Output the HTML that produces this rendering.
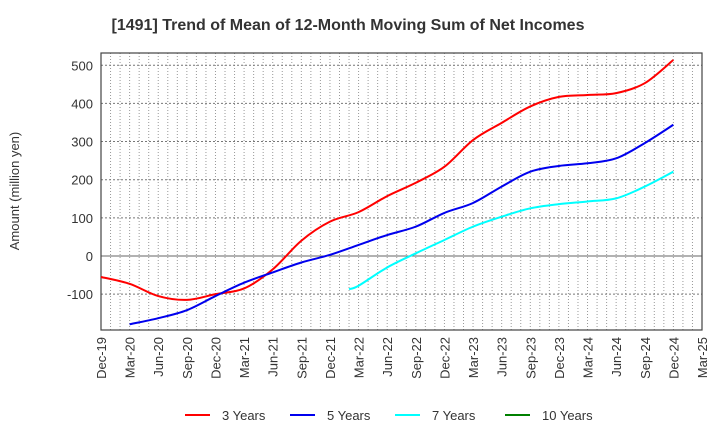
<!DOCTYPE html>
<html><head><meta charset="utf-8"><style>
body{margin:0;background:#fff;font-family:"Liberation Sans",Arial,sans-serif}
svg text{font-family:"Liberation Sans",Arial,sans-serif}
</style></head><body>
<svg id="c" width="720" height="440" xmlns="http://www.w3.org/2000/svg">
<text x="348" y="30" text-anchor="middle" font-size="16" font-weight="bold" fill="#333">[1491]  Trend of Mean of 12-Month Moving Sum of Net Incomes</text>
<text transform="translate(19,191) rotate(-90)" text-anchor="middle" font-size="13" fill="#333">Amount (million yen)</text>
<g id="grid"></g>
<g id="axes"></g>
<g id="series"></g>
<g id="legend"></g>
</svg>
<script>
const xLabels=["Dec-19","Mar-20","Jun-20","Sep-20","Dec-20","Mar-21","Jun-21","Sep-21","Dec-21","Mar-22","Jun-22","Sep-22","Dec-22","Mar-23","Jun-23","Sep-23","Dec-23","Mar-24","Jun-24","Sep-24","Dec-24","Mar-25"];
const yTicks=[-100,0,100,200,300,400,500];
const red3=[-55,-73,-105,-115,-100,-85,-35,40,90,115,157,192,234,304,349,392,417,422,427,453,514];
const red3Months=[0,3,6,9,12,15,18,21,24,27,30,33,36,39,42,45,48,51,54,57,60];
const blue5=[-179,-163,-142,-105,-70,-43,-17,3,29,55,77,113,139,182,221,236,243,256,296,344];
const blue5Months=[3,6,9,12,15,18,21,24,27,30,33,36,39,42,45,48,51,54,57,60];
const cyan7=[-87,-78,-30,7,42,77,103,125,136,143,151,182,221];
const cyan7Months=[26,27,30,33,36,39,42,45,48,51,54,57,60];
const green10=[];
const green10Months=[];
const L=101,R=702,T=53,B=330,Y0=256,PX100=38.15;
const NS="http://www.w3.org/2000/svg";
const xs=m=>L+m*(R-L)/63;
const ys=v=>Y0-v*PX100/100;
function mk(t,a,p){const e=document.createElementNS(NS,t);for(const k in a)e.setAttribute(k,a[k]);p.appendChild(e);return e;}
const grid=document.getElementById('grid'),axes=document.getElementById('axes'),ser=document.getElementById('series'),leg=document.getElementById('legend');
for(let m=1;m<63;m++){const l=mk('line',{x1:xs(m),x2:xs(m),y1:T,y2:B,stroke:'#999','stroke-width':1,'stroke-dasharray':'1,2'},grid);

}
yTicks.forEach(v=>{const l=mk('line',{x1:L,x2:R,y1:ys(v),y2:ys(v),stroke:v===0?'#666':'#777','stroke-width':1,'stroke-dasharray':v===0?'':'2,2'},grid);


const t=mk('text',{x:L-8,y:ys(v)+5,'text-anchor':'end','font-size':13,fill:'#333'},axes);t.textContent=v;

});
const fr=mk('rect',{x:L,y:T,width:R-L,height:B-T,fill:'none',stroke:'#444','stroke-width':1.2},axes);


xLabels.forEach((s,i)=>{const x=xs(i*3);const t=mk('text',{transform:`translate(${x+5},${B+7}) rotate(-90)`,'text-anchor':'end','font-size':13,fill:'#333'},axes);t.textContent=s;

});
function path(ms,vs){const p=ms.map((m,i)=>[xs(m),ys(vs[i])]);if(p.length<2)return'';let d=`M${p[0][0]},${p[0][1]}`;
for(let i=0;i<p.length-1;i++){const p0=p[i-1]||p[i],p1=p[i],p2=p[i+1],p3=p[i+2]||p2;
d+=` C${p1[0]+(p2[0]-p0[0])/6},${p1[1]+(p2[1]-p0[1])/6} ${p2[0]-(p3[0]-p1[0])/6},${p2[1]-(p3[1]-p1[1])/6} ${p2[0]},${p2[1]}`;}return d;}
[[red3Months,red3,'#ff0000','line-3-years'],[blue5Months,blue5,'#0000ee','line-5-years'],[cyan7Months,cyan7,'#00ffff','line-7-years'],[green10Months,green10,'#008000','line-10-years']].forEach(s=>{
const e=mk('path',{d:path(s[0],s[1]),fill:'none',stroke:s[2],'stroke-width':2},ser);

});
[['3 Years','#ff0000',185],['5 Years','#0000ee',290],['7 Years','#00ffff',395],['10 Years','#008000',505]].forEach(l=>{
const g=mk('g',{},leg);


mk('line',{x1:l[2],x2:l[2]+25,y1:415,y2:415,stroke:l[1],'stroke-width':2},g);
const t=mk('text',{x:l[2]+37,y:420,'font-size':13,fill:'#333'},g);t.textContent=l[0];});
</script>
</body></html>
